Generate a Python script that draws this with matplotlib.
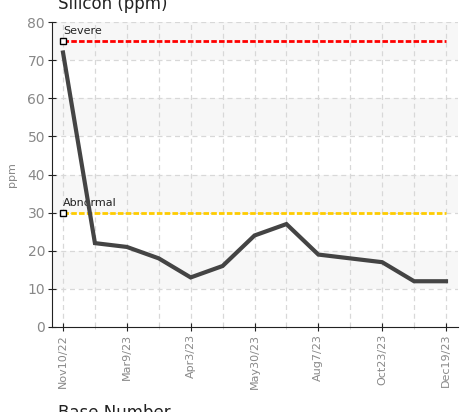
import matplotlib
matplotlib.use("Agg")
import matplotlib.pyplot as plt
from matplotlib import font_manager as fm

dates = ["Nov10/22", "", "Mar9/23", "", "Apr3/23", "", "May30/23", "", "Aug7/23", "", "Oct23/23", "", "Dec19/23"]
values = [72, 22, 21, 18, 13, 16, 24, 27, 19, 18, 17, 12, 12]
severe = 75
abnormal = 30
yticks = [0, 10, 20, 30, 40, 50, 60, 70, 80]

names = {f.name for f in fm.fontManager.ttflist}
cond = "Liberation Sans Narrow" if "Liberation Sans Narrow" in names else "DejaVu Sans"

fig = plt.figure(figsize=(4.66, 4.12), dpi=100)
ax = fig.add_axes([52/466, 1-327/412, (458-52)/466, (327-22)/412])

n = len(values)
xs = list(range(n))
ax.set_xlim(-0.345, n - 1 + 0.376)
ax.set_ylim(0, 80)

# alternating bands
for lo in range(0, 80, 10):
    if (lo // 10) % 2 == 1:
        ax.axhspan(lo, lo + 10, color="#f7f7f7", zorder=0, lw=0)

for y in yticks[1:]:
    ax.axhline(y, color="#d8d8d8", lw=0.9, ls=(0, (4, 3)), zorder=1)
for x in xs:
    ax.axvline(x, color="#d8d8d8", lw=0.9, ls=(0, (4, 3)), zorder=1)

ax.plot([xs[0], xs[-1]], [severe, severe], color="#ff0000", lw=2, ls=(0, (2, 0.8)), zorder=3)
ax.plot([xs[0], xs[-1]], [abnormal, abnormal], color="#ffcc00", lw=2, ls=(0, (2, 0.8)), zorder=3)
ax.plot([xs[0]], [severe], marker="s", ms=4.5, mfc="white", mec="black", mew=1, zorder=5)
ax.plot([xs[0]], [abnormal], marker="s", ms=4.5, mfc="white", mec="black", mew=1, zorder=5)
ax.text(xs[0], severe + 1.2, "Severe", fontsize=8, family=cond, color="#222222", va="bottom", ha="left")
ax.text(xs[0], abnormal + 1.2, "Abnormal", fontsize=8, family=cond, color="#222222", va="bottom", ha="left")

ax.plot(xs, values, color="#444444", lw=3, solid_joinstyle="miter", zorder=4)

for s in ["top", "right"]:
    ax.spines[s].set_visible(False)
ax.spines["left"].set_color("#222222")
ax.spines["bottom"].set_color("#222222")

major = [i for i, d in enumerate(dates) if d]
minor = [i for i, d in enumerate(dates) if not d]
ax.set_xticks(major)
ax.set_xticklabels([dates[i] for i in major], rotation=90, fontsize=8, family=cond, color="#888888")
ax.set_xticks(minor, minor=True)
ax.tick_params(axis="x", which="major", direction="inout", length=6, color="#222222", pad=2)
ax.tick_params(axis="x", which="minor", direction="inout", length=3, color="#cccccc")
ax.set_yticks(yticks)
ax.set_yticklabels([str(v) for v in yticks], fontsize=10, family=cond, color="#888888")
ax.tick_params(axis="y", direction="inout", length=6, color="#222222", pad=2)

fig.text(12/466, 1-175/412, "ppm", rotation=90, fontsize=8, color="#888888", family=cond, ha="center", va="center")
fig.text(58/466, 1-9/412, "Silicon (ppm)", fontsize=12, color="#222222", ha="left", va="baseline")
fig.text(58/466, -6/412, "Base Number", fontsize=12, color="#222222", ha="left", va="baseline")

fig.savefig("out.png", dpi=100)
